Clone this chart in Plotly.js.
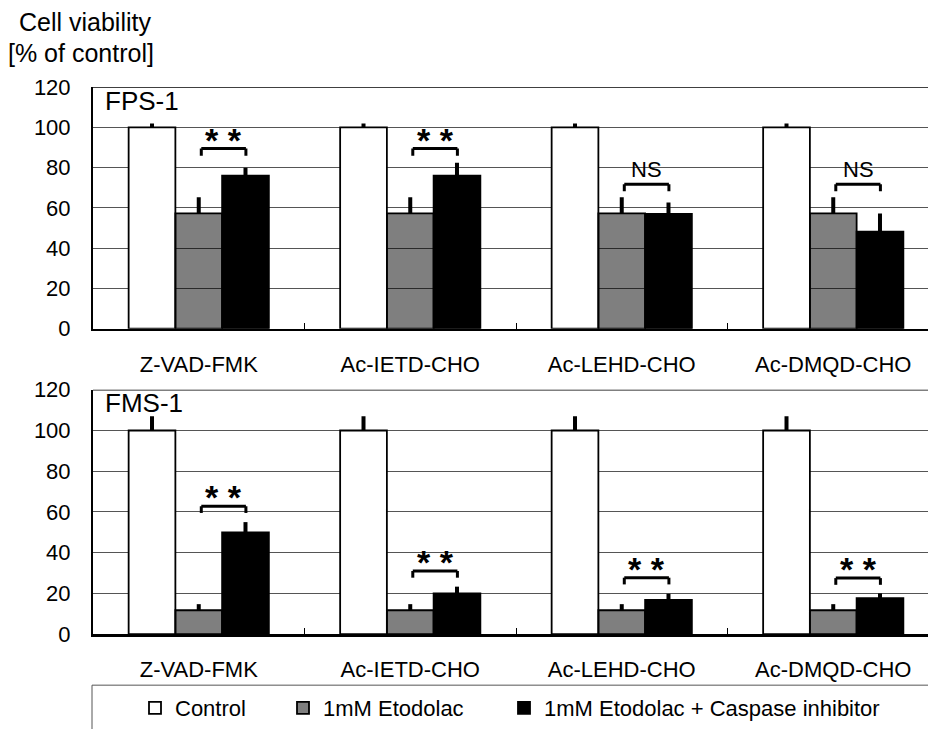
<!DOCTYPE html>
<html>
<head>
<meta charset="utf-8">
<script src="https://cdn.plot.ly/plotly-3.0.1.min.js"></script>
<style>html,body{margin:0;padding:0;background:#fff;}#chart{width:928px;height:729px;}</style>
</head>
<body>
<div id="chart"></div>
<script>
// ---- data ----
const categories = ['Z-VAD-FMK', 'Ac-IETD-CHO', 'Ac-LEHD-CHO', 'Ac-DMQD-CHO'];
const seriesNames = ['Control', '1mM Etodolac', '1mM Etodolac + Caspase inhibitor'];
const panelNames = ['FPS-1', 'FMS-1'];

const fpsControl = [100, 100, 100, 100];
const fpsControlErr = [2, 2, 2, 2];
const fpsEtodolac = [57.3, 57.3, 57.3, 57.3];
const fpsEtodolacErr = [8, 8, 8, 8];
const fpsCombo = [76, 76, 57, 48.2];
const fpsComboErr = [4, 6.5, 5.7, 9];
const fpsSigText = ['* *', '* *', 'NS', 'NS'];
const fpsSigY = [89.5, 89.5, 71.8, 71.8];

const fmsControl = [100, 100, 100, 100];
const fmsControlErr = [7, 7, 7, 7];
const fmsEtodolac = [11.7, 11.7, 11.7, 11.7];
const fmsEtodolacErr = [3, 3, 3, 3];
const fmsCombo = [50, 20, 16.8, 17.6];
const fmsComboErr = [5, 3.3, 3, 2.4];
const fmsSigText = ['* *', '* *', '* *', '* *'];
const fmsSigY = [62.8, 31, 27.7, 27.5];

const yTicks = [0, 20, 40, 60, 80, 100, 120];

// ---- styles ----
const FONT = 'Liberation Sans, Arial, sans-serif';
const W = 928, H = 729;
const colors = ['#ffffff', 'rgba(0,0,0,0.5)', '#000000'];
const legendIds = ['legend', 'legend2', 'legend3'];
const zeros = [0, 0, 0, 0];

function bars(vals, errs, idx, xa, ya, show) {
  return {
    type: 'bar', x: categories, y: vals, name: seriesNames[idx],
    xaxis: xa, yaxis: ya, showlegend: show, legend: legendIds[idx],
    marker: {color: colors[idx], line: {color: '#000', width: 1.8}},
    error_y: {type: 'data', array: errs, arrayminus: zeros, symmetric: false,
              color: '#000', thickness: 4, width: 0},
    hoverinfo: 'skip'
  };
}

const data = [
  bars(fpsControl, fpsControlErr, 0, 'x', 'y', true),
  bars(fpsEtodolac, fpsEtodolacErr, 1, 'x', 'y', true),
  bars(fpsCombo, fpsComboErr, 2, 'x', 'y', true),
  bars(fmsControl, fmsControlErr, 0, 'x2', 'y2', false),
  bars(fmsEtodolac, fmsEtodolacErr, 1, 'x2', 'y2', false),
  bars(fmsCombo, fmsComboErr, 2, 'x2', 'y2', false)
];

const xLeft = 93 / W;
const xRange = [-0.5, 3.448];
function px2py(p) { return 1 - p / H; }

function xaxisDef(anchor) {
  return {
    anchor: anchor, domain: [xLeft, 1], range: xRange, type: 'category',
    tickson: 'boundaries', ticks: 'inside', ticklen: 6, tickwidth: 1, tickcolor: '#000',
    showline: true, linecolor: '#000', linewidth: 2.5, showgrid: false, zeroline: false,
    tickfont: {family: FONT, size: 22, color: '#000'}, ticklabelstandoff: 14, fixedrange: true
  };
}
function yaxisDef(anchor, dom) {
  return {
    anchor: anchor, domain: dom, range: [0, 120], tickvals: yTicks,
    showline: true, linecolor: '#000', linewidth: 2, ticks: '',
    showgrid: true, gridcolor: '#555', gridwidth: 1, zeroline: false,
    tickfont: {family: FONT, size: 22, color: '#000'}, ticklabelstandoff: 16, fixedrange: true
  };
}

const shapes = [];
const annotations = [];
const barOff = 0.221;
function addSig(texts, ys, xref, yref, leg) {
  texts.forEach((t, i) => {
    const x0 = i + 0.012, x1 = i + barOff + 0.002, y = ys[i];
    const ln = {color: '#000', width: 3};
    shapes.push({type: 'line', xref, yref, x0, x1, y0: y, y1: y, line: ln});
    shapes.push({type: 'line', xref, yref, x0, x1: x0, y0: y, y1: y - leg, line: ln});
    shapes.push({type: 'line', xref, yref, x0: x1, x1, y0: y, y1: y - leg, line: ln});
    const isNS = t === 'NS';
    annotations.push({
      xref, yref, x: (x0 + x1) / 2, y, text: t, showarrow: false,
      yanchor: 'middle', yshift: isNS ? 15 : 9,
      font: isNS ? {family: FONT, size: 22, color: '#000'}
                 : {family: FONT, size: 34, color: '#000', weight: 'bold'}
    });
  });
}
addSig(fpsSigText, fpsSigY, 'x', 'y', 3.5);
addSig(fmsSigText, fmsSigY, 'x2', 'y2', 3.3);

// top borders of panels
['y', 'y2'].forEach(yr => {
  shapes.push({type: 'line', xref: 'paper', yref: yr, x0: xLeft, x1: 1.01, y0: 120, y1: 120,
               line: {color: '#000', width: 1.5}});
});
// legend frame
shapes.push({type: 'rect', xref: 'paper', yref: 'paper', x0: 92 / W, x1: 1.02,
             y0: -0.05, y1: px2py(688), line: {color: '#555', width: 1}, fillcolor: 'rgba(0,0,0,0)'});

// panel labels
annotations.push({xref: 'paper', yref: 'paper', x: 103 / W, y: px2py(101), xanchor: 'left', yanchor: 'middle',
  text: panelNames[0], showarrow: false, font: {family: FONT, size: 26, color: '#000'}});
annotations.push({xref: 'paper', yref: 'paper', x: 103 / W, y: px2py(405), xanchor: 'left', yanchor: 'middle',
  text: panelNames[1], showarrow: false, font: {family: FONT, size: 26, color: '#000'}});
// y title
annotations.push({xref: 'paper', yref: 'paper', x: 17 / W, y: px2py(22), xanchor: 'left', yanchor: 'middle',
  text: 'Cell viability', showarrow: false, font: {family: FONT, size: 25, color: '#000'}});
annotations.push({xref: 'paper', yref: 'paper', x: 6 / W, y: px2py(53), xanchor: 'left', yanchor: 'middle',
  text: '[% of control]', showarrow: false, font: {family: FONT, size: 25, color: '#000'}});

function legendDef(px) {
  return {x: px / W, y: px2py(711), xanchor: 'left', yanchor: 'middle', orientation: 'h',
          bgcolor: 'rgba(0,0,0,0)', borderwidth: 0, font: {family: FONT, size: 22, color: '#000'},
          itemclick: false, itemdoubleclick: false};
}

const layout = {
  width: W, height: H, margin: {l: 0, r: 0, t: 0, b: 0},
  paper_bgcolor: '#fff', plot_bgcolor: '#fff',
  barmode: 'group', bargap: 0.337, bargroupgap: 0,
  xaxis: xaxisDef('y'), yaxis: yaxisDef('x', [px2py(330), px2py(87.6)]),
  xaxis2: xaxisDef('y2'), yaxis2: yaxisDef('x2', [px2py(636.7), px2py(391.4)]),
  legend: legendDef(135), legend2: legendDef(283), legend3: legendDef(504),
  shapes, annotations, font: {family: FONT, color: '#000'}
};

Plotly.newPlot('chart', data, layout, {staticPlot: true, displayModeBar: false});
</script>
</body>
</html>
